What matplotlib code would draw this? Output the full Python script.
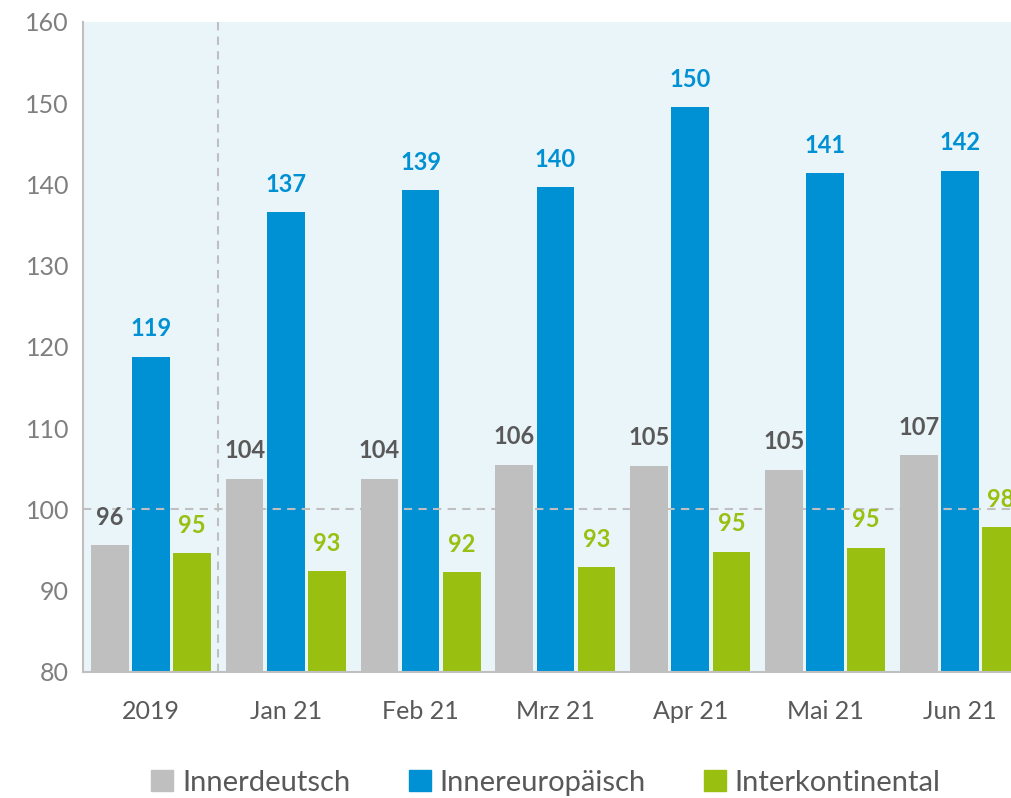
import matplotlib.pyplot as plt
import numpy as np
from matplotlib.patches import Patch

plt.rcParams['font.family'] = ['Lato', 'DejaVu Sans']

categories = ['2019', 'Jan 21', 'Feb 21', 'Mrz 21', 'Apr 21', 'Mai 21', 'Jun 21']
innerdeutsch = [95.6, 103.8, 103.8, 105.5, 105.4, 104.9, 106.7]
innereuropaeisch = [118.8, 136.6, 139.3, 139.7, 149.5, 141.4, 141.7]
interkontinental = [94.6, 92.4, 92.3, 92.9, 94.8, 95.3, 97.8]
labels_de = ['96', '104', '104', '106', '105', '105', '107']
labels_eu = ['119', '137', '139', '140', '150', '141', '142']
labels_ik = ['95', '93', '92', '93', '95', '95', '98']

gray = '#BFBFBF'
blue = '#0090D4'
green = '#99BF10'

fig = plt.figure(figsize=(10.11, 7.98), dpi=100)
ax = fig.add_axes([0.082, 0.158, 0.918, 0.8145])
ax.set_facecolor('#EAF5FA')

x = np.arange(len(categories))
w = 0.28
off = 0.305
series = [(innerdeutsch, labels_de, gray, '#595959', -off),
          (innereuropaeisch, labels_eu, blue, blue, 0),
          (interkontinental, labels_ik, green, green, off)]
for vals, labs, col, tcol, dx in series:
    ax.bar(x + dx, np.array(vals) - 80, w, bottom=80, color=col, zorder=2)
    for xi, v, t in zip(x, vals, labs):
        ax.text(xi + dx, v + 2.0, t, ha='center', va='bottom', fontsize=17,
                fontweight='bold', color=tcol, zorder=4)

ax.axhline(100, color='#BFBFBF', ls=(0, (4, 3)), lw=1.5, zorder=3)
ax.axvline(0.5, color='#BFBFBF', ls=(0, (4, 3)), lw=1.5, zorder=1)

ax.set_ylim(80, 160)
ax.set_xlim(-0.504, 6.378)
ax.set_yticks(range(80, 161, 10))
ax.set_xticks(x)
ax.set_xticklabels(categories)
ax.tick_params(axis='both', length=0, labelsize=18, colors='#595959')
ax.tick_params(axis='y', pad=10, labelcolor='#7F7F7F')
ax.tick_params(axis='x', pad=20)
for s in ['top', 'right']:
    ax.spines[s].set_visible(False)
for s in ['left', 'bottom']:
    ax.spines[s].set_color('#BFBFBF')
    ax.spines[s].set_linewidth(1.5)

handles = [Patch(color=gray, label='Innerdeutsch'),
           Patch(color=blue, label='Innereuropäisch'),
           Patch(color=green, label='Interkontinental')]
fig.legend(handles=handles, loc='lower center', bbox_to_anchor=(0.54, -0.03), ncol=3,
           frameon=False, fontsize=21, handlelength=0.75, handleheight=0.75,
           handletextpad=0.3, columnspacing=2.0, labelcolor='#595959')

fig.savefig('out.png', dpi=100)
